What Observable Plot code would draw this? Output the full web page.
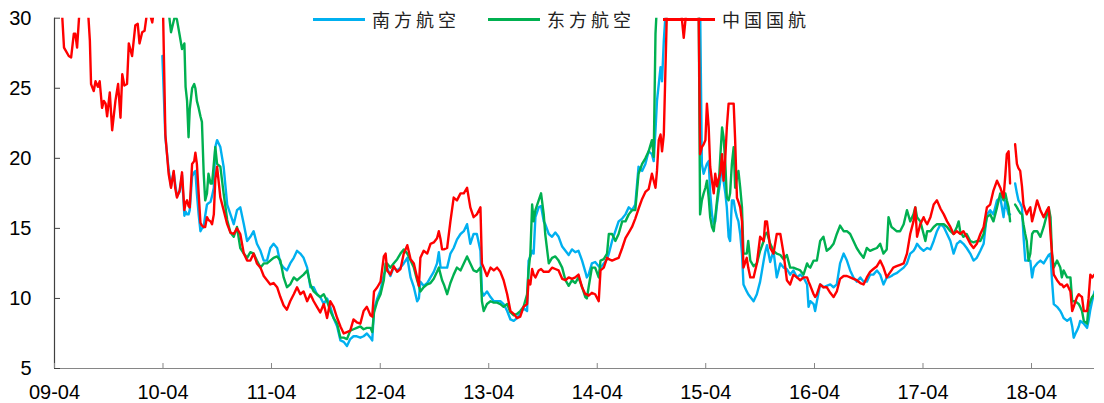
<!DOCTYPE html>
<html>
<head>
<meta charset="utf-8">
<script src="https://cdn.jsdelivr.net/npm/d3@7"></script>
<script src="https://cdn.jsdelivr.net/npm/@observablehq/plot@0.6"></script>
<style>
  html, body { margin: 0; padding: 0; background: #fff; }
  #chart { position: relative; width: 1104px; height: 403px; overflow: hidden; background: #fff; }
  #chart svg { display: block; }
  .legend-item {
    position: absolute; top: 7px; height: 24px;
    display: flex; align-items: center; white-space: nowrap;
    font-family: "Noto Sans CJK SC", sans-serif; font-size: 18px;
    letter-spacing: 4px; color: #222;
  }
  .legend-item .swatch { width: 52px; height: 3px; margin-right: 7px; }
</style>
</head>
<body>
<div id="chart"></div>
<script>
// Series names and colours (legend order = drawing order)
const seriesNames = ["南方航空", "东方航空", "中国国航"];
const seriesColors = ["#00B0F0", "#00B050", "#FF0000"];
const legendLeft = [313, 488, 663];

// Axis settings
const yDomain = [5, 30];
const yTicks = [5, 10, 15, 20, 25, 30];
const xDomain = ["2009-04-01", "2018-10-30"];
const xTicks = ["2009-04-01", "2010-04-01", "2011-04-01", "2012-04-01", "2013-04-01",
                "2014-04-01", "2015-04-01", "2016-04-01", "2017-04-01", "2018-04-01"];

// Observation dates
const dates = [
  // 2009
  "2009-04-01","2009-04-15","2009-04-26","2009-05-03","2009-05-19","2009-05-27","2009-06-05","2009-06-10","2009-06-16","2009-06-27",
  "2009-07-20","2009-07-29","2009-08-02","2009-08-11","2009-08-17","2009-08-25","2009-08-31","2009-09-08","2009-09-14","2009-09-20",
  "2009-09-25","2009-10-04","2009-10-12","2009-10-23","2009-11-01","2009-11-09","2009-11-15","2009-11-22","2009-12-01","2009-12-07",
  "2009-12-18","2009-12-29",
  // 2010
  "2010-01-06","2010-01-12","2010-01-21","2010-01-29","2010-02-09","2010-02-24","2010-03-07",
  "2010-03-30","2010-04-09","2010-04-20","2010-04-28","2010-05-07","2010-05-12","2010-05-18","2010-05-27","2010-06-04","2010-06-12",
  "2010-06-16","2010-06-21","2010-06-26","2010-06-30","2010-07-08","2010-07-15","2010-07-19","2010-07-24","2010-07-30","2010-08-05",
  "2010-08-10","2010-08-16","2010-08-21","2010-08-27","2010-09-01","2010-09-08","2010-09-13","2010-09-19","2010-09-24","2010-09-30",
  "2010-10-11","2010-10-22","2010-11-03","2010-11-14","2010-11-25","2010-12-06","2010-12-17","2010-12-29",
  // 2011
  "2011-01-09","2011-01-20","2011-01-31","2011-02-11","2011-02-23","2011-03-06","2011-03-17","2011-03-28","2011-04-08","2011-04-20",
  "2011-05-01","2011-05-12","2011-05-23","2011-06-03","2011-06-15","2011-06-26","2011-07-07","2011-07-18","2011-07-30","2011-08-10",
  "2011-08-21","2011-09-01","2011-09-12","2011-09-24","2011-10-05","2011-10-16","2011-10-27","2011-11-08","2011-11-19","2011-11-30",
  "2011-12-11","2011-12-22",
  // 2012
  "2012-01-02","2012-01-13","2012-01-25","2012-02-05","2012-02-16","2012-02-28","2012-03-05","2012-03-11","2012-03-22","2012-04-02",
  "2012-04-13","2012-04-19","2012-04-24","2012-05-05","2012-05-16","2012-05-28","2012-06-08","2012-06-19","2012-07-01","2012-07-12",
  "2012-07-23","2012-08-03","2012-08-09","2012-08-14","2012-08-25","2012-09-06","2012-09-17","2012-09-28","2012-10-09","2012-10-15",
  "2012-10-21","2012-10-26","2012-11-01","2012-11-12","2012-11-23","2012-12-04","2012-12-15","2012-12-27",
  // 2013
  "2013-01-07","2013-01-18","2013-01-29","2013-02-09","2013-02-20","2013-03-04","2013-03-09","2013-03-15","2013-03-26","2013-04-07",
  "2013-04-18","2013-04-29","2013-05-10","2013-05-21","2013-06-02","2013-06-13","2013-06-24","2013-07-05","2013-07-16","2013-07-27",
  "2013-08-08","2013-08-13","2013-08-19","2013-08-25","2013-08-30","2013-09-05","2013-09-16","2013-09-24","2013-10-03","2013-10-08",
  "2013-10-20","2013-10-31","2013-11-11","2013-11-22","2013-12-04","2013-12-15","2013-12-26",
  // 2014
  "2014-01-06","2014-01-17","2014-01-28","2014-02-09","2014-02-20","2014-02-25","2014-03-03","2014-03-14","2014-03-25","2014-04-06",
  "2014-04-12","2014-04-23","2014-05-04","2014-05-10","2014-05-21","2014-06-01","2014-06-12","2014-06-24","2014-07-05","2014-07-16",
  "2014-07-27","2014-08-07","2014-08-18","2014-08-30","2014-09-10","2014-09-21","2014-10-02","2014-10-08","2014-10-14","2014-10-19",
  "2014-10-25","2014-10-31","2014-11-05","2014-11-11","2014-11-22",
  // 2015
  "2015-01-06","2015-01-17","2015-01-28","2015-03-08","2015-03-13","2015-03-19","2015-03-25","2015-03-31","2015-04-05","2015-04-11",
  "2015-04-16","2015-04-22","2015-04-28","2015-05-03","2015-05-09","2015-05-14","2015-05-20","2015-05-26","2015-05-31","2015-06-06",
  "2015-06-11","2015-06-17","2015-06-22","2015-06-28","2015-07-04","2015-07-09","2015-07-15","2015-07-20","2015-07-26","2015-08-01",
  "2015-08-06","2015-08-17","2015-08-22","2015-08-29","2015-09-09","2015-09-20","2015-10-01","2015-10-13","2015-10-18","2015-10-24",
  "2015-11-04","2015-11-15","2015-11-26","2015-12-08","2015-12-19","2015-12-30",
  // 2016
  "2016-01-10","2016-01-21","2016-02-02","2016-02-13","2016-02-24","2016-03-07","2016-03-12","2016-03-18","2016-03-29","2016-04-03",
  "2016-04-09","2016-04-20","2016-05-01","2016-05-12","2016-05-24","2016-06-04","2016-06-15","2016-06-26","2016-07-08","2016-07-19",
  "2016-07-30","2016-08-10","2016-08-21","2016-09-02","2016-09-13","2016-09-24","2016-10-05","2016-10-16","2016-10-28","2016-11-08",
  "2016-11-19","2016-11-30","2016-12-06","2016-12-16","2016-12-22",
  // 2017
  "2017-01-02","2017-01-14","2017-01-26","2017-02-06","2017-02-17","2017-02-28","2017-03-06","2017-03-12","2017-03-23","2017-04-03",
  "2017-04-09","2017-04-15","2017-04-26","2017-05-07","2017-05-18","2017-05-30","2017-06-10","2017-06-21","2017-07-02","2017-07-13",
  "2017-07-24","2017-07-30","2017-08-04","2017-08-15","2017-08-26","2017-09-07","2017-09-18","2017-09-29","2017-10-11","2017-10-22",
  "2017-11-02","2017-11-13","2017-11-24","2017-12-06","2017-12-17","2017-12-28",
  // 2018
  "2018-01-03","2018-01-08","2018-01-14","2018-01-19","2018-01-27","2018-02-05","2018-02-11","2018-02-16","2018-02-22","2018-02-28",
  "2018-03-05","2018-03-11","2018-03-16","2018-03-22","2018-03-28","2018-04-03","2018-04-09","2018-04-20","2018-05-01","2018-05-12",
  "2018-05-23","2018-05-29","2018-06-04","2018-06-09","2018-06-15","2018-06-26","2018-07-07","2018-07-12","2018-07-18","2018-07-30",
  "2018-08-10","2018-08-16","2018-08-21","2018-08-27","2018-09-01","2018-09-07","2018-09-12","2018-09-18","2018-09-24","2018-10-05",
  "2018-10-10","2018-10-16","2018-10-22","2018-10-30"
];

// 南方航空
const chinaSouthern = [
  // 2009
  null,null,null,null,null,null,null,null,null,null,
  null,null,null,null,null,null,null,null,null,null,
  null,null,null,null,null,null,null,null,null,null,
  null,null,
  // 2010
  null,null,null,null,null,null,null,
  27.3,21.5,19.2,18.0,19.0,18.2,17.3,17.6,18.8,15.9,
  16.2,16.0,16.0,16.3,18.7,19.0,19.1,17.5,16.0,14.8,
  15.0,15.1,15.9,16.7,16.8,16.9,17.3,17.9,20.8,21.3,
  20.8,19.4,16.7,16.0,15.3,16.3,16.5,15.3,
  // 2011
  14.1,14.4,14.8,13.9,13.4,12.7,12.7,13.6,13.9,13.6,
  12.5,12.2,12.0,12.5,12.9,13.4,13.2,12.9,12.2,10.8,
  10.8,10.3,10.1,9.6,10.0,9.4,8.6,8.0,7.0,6.9,
  6.6,7.1,
  // 2012
  7.3,7.3,7.2,7.3,7.5,7.2,7.0,9.2,10.0,10.6,
  11.7,12.0,12.2,11.6,12.2,12.0,12.2,12.5,12.9,11.5,
  10.8,9.8,10.0,11.2,10.9,11.1,11.5,11.9,12.5,13.3,
  12.2,12.2,12.2,12.2,13.2,13.6,14.2,14.6,
  // 2013
  14.8,15.3,13.9,14.6,14.6,13.4,10.5,10.2,10.5,10.1,
  9.8,9.8,9.8,9.6,9.1,8.5,8.4,8.6,8.9,9.3,
  9.1,12.7,13.0,13.4,13.2,15.8,16.5,16.6,15.5,15.3,
  14.6,14.4,14.7,14.4,13.7,13.4,13.1,
  // 2014
  13.5,13.3,13.4,12.7,11.9,11.5,11.7,12.5,12.6,12.3,
  12.2,12.5,12.8,13.2,14.1,14.8,15.5,15.7,16.0,16.5,
  16.3,16.7,19.4,19.1,19.6,20.5,20.3,19.8,22.0,24.1,
  25.3,26.5,25.5,28.4,32,
  // 2015
  34,34,34,32,31,19.6,18.9,19.3,19.6,19.8,
  17.5,16.0,15.3,15.5,16.7,17.5,18.4,19.8,18.4,17.5,
  16.5,14.4,14.1,17.0,17.0,16.3,15.8,15.5,14.6,13.2,
  11.0,10.5,10.3,10.1,9.8,10.3,11.2,12.7,13.3,13.8,
  12.6,13.4,11.5,12.5,12.2,12.1,
  // 2016
  11.7,12.0,11.5,11.7,11.5,11.0,9.4,9.8,9.6,9.1,
  9.8,11.0,10.8,10.9,11.0,10.8,11.0,12.5,13.2,12.7,
  12.0,11.5,11.2,11.5,11.2,11.2,11.7,11.7,12.0,11.7,
  11.0,11.5,11.5,11.6,11.7,
  // 2017
  11.8,12.0,12.2,12.5,13.2,13.4,13.6,13.9,13.6,13.4,
  13.5,13.6,13.5,14.1,14.8,15.3,15.1,14.6,14.1,13.2,
  13.9,14.0,14.1,13.9,13.6,13.2,12.7,12.9,13.4,13.9,
  16.0,16.3,16.0,17.0,17.2,15.8,
  // 2018
  17.0,16.5,16.0,16.0,null,18.2,17.5,17.0,16.8,16.5,
  14.5,12.7,12.7,12.7,12.7,11.5,12.2,12.5,12.7,12.5,
  12.9,13.1,13.2,11.3,9.6,9.4,9.1,8.9,8.6,8.4,
  8.6,8.0,7.2,7.5,7.7,8.0,8.4,8.3,8.2,7.9,
  8.4,9.2,9.8,10.5
];

// 东方航空
const chinaEastern = [
  // 2009
  null,null,null,null,null,null,null,null,null,null,
  null,null,null,null,null,null,null,null,null,null,
  null,null,null,null,null,null,null,null,null,null,
  null,null,
  // 2010
  null,null,null,null,null,null,null,
  32,32,30.5,29.0,29.8,30.2,29.9,28.8,27.8,28.2,
  25.1,24.1,21.5,23.5,25.0,25.3,25.0,24.1,23.6,23.0,
  22.6,18.9,17.0,17.5,18.9,18.2,18.2,19.6,20.8,19.6,
  19.4,17.5,15.6,14.7,14.4,15.1,13.6,13.2,
  // 2011
  12.9,13.3,13.2,12.7,12.2,12.5,12.5,12.7,12.9,13.0,
  12.7,11.5,10.8,11.0,11.5,11.3,11.5,11.7,12.0,11.0,
  10.5,10.3,10.1,10.3,9.8,9.1,8.6,8.2,7.2,7.2,
  7.1,7.7,
  // 2012
  7.8,7.9,8.0,7.8,7.9,7.9,7.6,9.0,9.8,10.3,
  11.3,12.5,12.5,12.2,12.5,12.8,13.2,13.5,13.2,12.7,
  12.2,11.3,10.9,10.5,10.8,11.0,11.1,11.4,11.9,12.2,
  11.7,11.3,11.0,10.3,11.1,11.7,12.2,12.0,
  // 2013
  12.5,13.0,12.5,12.0,11.9,12.2,9.8,9.1,9.6,9.8,
  9.7,9.7,9.6,9.4,9.6,9.0,8.8,8.9,9.1,9.4,
  10.3,12.0,13.2,16.7,15.5,16.3,17.0,17.5,16.0,14.6,
  12.5,12.9,13.0,12.7,12.2,11.3,10.9,
  // 2014
  11.3,11.1,11.5,10.8,10.1,10.0,10.8,12.2,12.2,11.5,
  12.7,12.8,13.2,14.6,14.6,14.1,14.6,15.5,15.5,16.0,
  16.3,16.3,18.9,19.6,20.0,20.5,21.3,20.1,28.9,31,
  32,33,33,33,34,
  // 2015
  35,35,35,32,16.0,17.0,17.5,17.9,18.4,17.2,
  15.8,15.1,14.8,15.8,17.0,17.9,20.1,22.2,21.5,19.6,
  17.2,17.0,17.5,19.6,20.8,17.9,18.6,19.1,17.9,16.5,
  13.2,13.2,14.1,12.7,12.3,12.5,13.4,14.1,14.6,14.7,
  13.9,13.4,13.2,13.1,12.8,13.1,
  // 2016
  12.2,12.2,12.1,12.0,11.7,12.5,12.3,12.2,12.7,12.7,
  12.7,14.1,14.4,13.4,13.6,13.9,14.6,15.2,14.8,14.8,
  14.6,14.1,13.6,13.2,12.9,13.6,13.4,13.5,13.6,13.9,
  13.2,13.5,15.8,15.1,15.0,
  // 2017
  14.8,14.8,15.3,16.3,15.5,16.0,16.5,15.8,15.5,14.6,
  14.1,14.8,14.8,15.1,15.3,15.3,15.3,15.1,14.8,14.6,
  15.1,15.5,14.8,14.4,14.6,14.1,14.0,14.1,14.1,14.6,
  15.8,16.0,15.5,16.5,17.5,17.0,
  // 2018
  17.5,17.0,16.5,15.5,null,16.7,16.5,16.3,16.1,16.0,
  15.3,14.6,14.1,12.7,13.2,14.6,14.8,14.8,14.4,15.1,
  16.0,16.5,15.8,13.2,12.2,12.7,12.2,11.5,12.0,11.5,
  11.5,9.8,9.8,9.8,9.7,9.6,9.4,9.1,8.4,8.2,
  9.4,9.8,10.1,10.3
];

// 中国国航
const airChina = [
  // 2009
  31.5,31.5,30.5,27.9,27.3,27.2,28.9,28.9,27.9,31.5,
  31.5,28.4,25.3,24.8,25.5,25.1,25.5,23.6,24.1,23.9,
  23.0,24.7,22.0,24.1,25.3,22.9,26.0,25.2,25.3,28.2,
  27.3,29.5,
  // 2010
  29.6,28.2,29.0,29.1,30.8,29.7,31.5,
  33,21.7,18.9,17.9,19.1,17.9,17.2,17.7,19.0,16.3,
  16.8,17.0,16.6,16.5,19.6,19.8,20.4,19.6,17.5,15.4,
  15.2,15.1,15.1,15.8,15.6,15.5,15.3,16.0,18.5,19.4,
  17.2,16.3,15.3,14.7,14.6,15.0,14.6,13.2,
  // 2011
  12.7,12.7,13.2,12.5,12.2,11.6,11.3,11.0,11.1,10.8,
  10.1,9.5,9.2,9.8,10.3,10.8,10.3,10.5,9.8,10.3,
  9.8,9.4,9.0,9.6,8.6,9.8,9.4,8.6,8.0,7.5,
  7.6,7.7,
  // 2012
  8.5,8.3,8.2,9.1,9.4,8.8,8.7,10.5,10.8,11.2,
  13.0,13.2,12.0,11.7,12.3,11.9,12.1,13.2,13.8,12.8,
  12.5,11.5,10.9,12.9,13.4,13.2,13.9,14.0,14.3,14.8,
  14.2,13.5,13.5,13.6,15.5,17.2,17.0,17.5,
  // 2013
  17.5,17.9,16.5,15.8,16.0,16.5,12.5,12.2,11.6,12.2,
  12.0,12.2,11.9,11.3,10.3,9.1,8.9,8.6,8.7,9.4,
  9.6,11.3,11.0,12.1,11.7,11.5,12.0,12.1,11.9,11.9,
  11.9,12.2,12.1,12.0,11.4,11.3,11.5,
  // 2014
  11.4,11.5,11.7,10.8,10.3,10.3,10.2,10.4,10.3,9.8,
  12.0,12.2,12.9,12.8,12.7,12.8,12.9,13.6,14.3,14.7,
  15.1,15.7,16.4,17.1,17.6,17.8,18.9,18.4,17.9,19.1,
  21.3,21.7,20.5,21.7,31,
  // 2015
  31,28.6,31,31,20.3,20.8,21.0,21.3,23.9,22.2,
  19.4,18.4,17.5,18.9,18.0,18.5,18.9,20.3,18.4,20.1,
  22.2,23.9,23.9,23.9,23.9,21.3,17.2,16.9,16.5,15.5,
  12.2,12.9,12.2,11.5,11.5,12.5,14.4,14.1,15.5,15.5,
  13.6,13.2,14.6,14.6,13.2,11.3,
  // 2016
  11.0,11.7,11.5,11.3,11.5,11.5,11.2,10.9,10.3,10.1,
  10.3,11.0,10.8,10.8,10.4,10.1,10.5,11.4,11.6,11.6,
  11.5,11.4,11.3,11.1,11.0,11.5,11.9,12.1,12.3,12.7,
  12.2,11.5,11.7,12.0,12.2,
  // 2017
  12.3,12.4,12.5,13.2,14.6,15.5,16.5,14.4,15.3,15.8,
  15.5,15.3,15.8,16.7,17.0,16.4,16.0,15.5,15.1,14.6,
  14.8,14.7,14.6,14.8,14.4,13.9,13.6,13.9,14.6,15.1,
  16.5,16.7,17.7,18.4,17.9,17.2,
  // 2018
  18.8,20.3,20.5,18.2,null,21.0,19.6,19.3,19.1,18.0,
  16.7,16.3,16.0,16.3,16.5,15.5,16.0,17.0,16.3,15.8,
  16.3,16.5,14.6,13.2,11.7,11.3,11.0,11.0,10.8,11.0,
  10.5,9.1,9.4,9.8,10.1,10.3,10.2,10.1,9.1,9.1,
  10.0,11.7,11.5,11.7
];

const seriesValues = [chinaSouthern, chinaEastern, airChina];
const parseDate = (s) => new Date(s + "T00:00:00Z");

// One tidy table per series
const tables = seriesValues.map((values) =>
  dates.map((d, i) => ({date: parseDate(d), value: values[i]}))
);

const chart = Plot.plot({
  width: 1104,
  height: 403,
  marginTop: 17.7,
  marginBottom: 35,
  marginLeft: 54,
  marginRight: 10,
  style: {fontFamily: "'Liberation Sans', Arial, sans-serif", background: "#fff", overflow: "visible"},
  x: {type: "utc", domain: xDomain.map(parseDate)},
  y: {domain: yDomain},
  marks: [
    ...tables.map((data, s) =>
      Plot.lineY(data, {
        x: "date", y: "value",
        stroke: seriesColors[s], strokeWidth: 2.4,
        strokeLinejoin: "round", clip: true
      })
    ),
    Plot.ruleX([parseDate(xDomain[0])], {stroke: "#404040", strokeWidth: 1.2}),
    Plot.ruleY([yDomain[0]], {stroke: "#868686", strokeWidth: 1.2}),
    Plot.axisY(yTicks, {
      anchor: "left", tickSize: -6, tickPadding: 29, label: null,
      stroke: "#404040", fill: "#000", fontSize: 20
    }),
    Plot.axisX(xTicks.map(parseDate), {
      anchor: "bottom", tickSize: -5, tickPadding: 21, label: null,
      tickFormat: d3.utcFormat("%y-%m"),
      stroke: "#868686", fill: "#000", fontSize: 20
    })
  ]
});

const container = document.getElementById("chart");
container.appendChild(chart);

// Legend across the top of the plot area
seriesNames.forEach((name, s) => {
  const item = document.createElement("div");
  item.className = "legend-item";
  item.style.left = legendLeft[s] + "px";
  const swatch = document.createElement("span");
  swatch.className = "swatch";
  swatch.style.background = seriesColors[s];
  const label = document.createElement("span");
  label.textContent = name;
  item.appendChild(swatch);
  item.appendChild(label);
  container.appendChild(item);
});
</script>
</body>
</html>
